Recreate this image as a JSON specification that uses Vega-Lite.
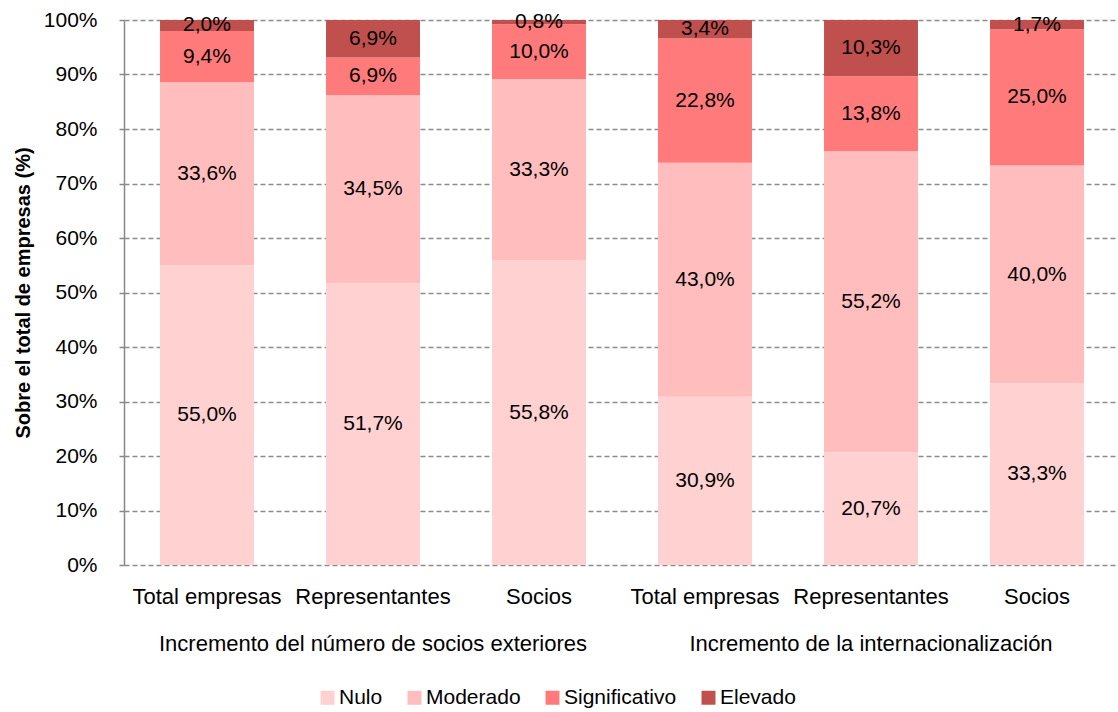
{
  "$schema": "https://vega.github.io/schema/vega-lite/v6.json",
  "padding": {"left": 13, "top": 9, "right": 0, "bottom": 6},
  "background": "white",
  "config": {
    "font": "Liberation Sans",
    "locale": {"number": {"decimal": ",", "thousands": ".", "grouping": [3], "currency": ["", " €"]}},
    "view": {"stroke": null},
    "axis": {"labelFont": "Liberation Sans", "labelColor": "black", "titleColor": "black"},
    "header": {"labelFont": "Liberation Sans", "labelColor": "black"},
    "legend": {"labelFont": "Liberation Sans", "labelColor": "black"}
  },
  "data": {
    "values": [
      {"grupo": "Incremento del número de socios exteriores", "barra": "Total empresas", "nivel": "Nulo", "orden": 1, "valor": 0.550},
      {"grupo": "Incremento del número de socios exteriores", "barra": "Total empresas", "nivel": "Moderado", "orden": 2, "valor": 0.336},
      {"grupo": "Incremento del número de socios exteriores", "barra": "Total empresas", "nivel": "Significativo", "orden": 3, "valor": 0.094},
      {"grupo": "Incremento del número de socios exteriores", "barra": "Total empresas", "nivel": "Elevado", "orden": 4, "valor": 0.020},
      {"grupo": "Incremento del número de socios exteriores", "barra": "Representantes", "nivel": "Nulo", "orden": 1, "valor": 0.517},
      {"grupo": "Incremento del número de socios exteriores", "barra": "Representantes", "nivel": "Moderado", "orden": 2, "valor": 0.345},
      {"grupo": "Incremento del número de socios exteriores", "barra": "Representantes", "nivel": "Significativo", "orden": 3, "valor": 0.069},
      {"grupo": "Incremento del número de socios exteriores", "barra": "Representantes", "nivel": "Elevado", "orden": 4, "valor": 0.069},
      {"grupo": "Incremento del número de socios exteriores", "barra": "Socios", "nivel": "Nulo", "orden": 1, "valor": 0.558},
      {"grupo": "Incremento del número de socios exteriores", "barra": "Socios", "nivel": "Moderado", "orden": 2, "valor": 0.333},
      {"grupo": "Incremento del número de socios exteriores", "barra": "Socios", "nivel": "Significativo", "orden": 3, "valor": 0.100},
      {"grupo": "Incremento del número de socios exteriores", "barra": "Socios", "nivel": "Elevado", "orden": 4, "valor": 0.008},
      {"grupo": "Incremento de la internacionalización", "barra": "Total empresas", "nivel": "Nulo", "orden": 1, "valor": 0.309},
      {"grupo": "Incremento de la internacionalización", "barra": "Total empresas", "nivel": "Moderado", "orden": 2, "valor": 0.430},
      {"grupo": "Incremento de la internacionalización", "barra": "Total empresas", "nivel": "Significativo", "orden": 3, "valor": 0.228},
      {"grupo": "Incremento de la internacionalización", "barra": "Total empresas", "nivel": "Elevado", "orden": 4, "valor": 0.034},
      {"grupo": "Incremento de la internacionalización", "barra": "Representantes", "nivel": "Nulo", "orden": 1, "valor": 0.207},
      {"grupo": "Incremento de la internacionalización", "barra": "Representantes", "nivel": "Moderado", "orden": 2, "valor": 0.552},
      {"grupo": "Incremento de la internacionalización", "barra": "Representantes", "nivel": "Significativo", "orden": 3, "valor": 0.138},
      {"grupo": "Incremento de la internacionalización", "barra": "Representantes", "nivel": "Elevado", "orden": 4, "valor": 0.103},
      {"grupo": "Incremento de la internacionalización", "barra": "Socios", "nivel": "Nulo", "orden": 1, "valor": 0.333},
      {"grupo": "Incremento de la internacionalización", "barra": "Socios", "nivel": "Moderado", "orden": 2, "valor": 0.400},
      {"grupo": "Incremento de la internacionalización", "barra": "Socios", "nivel": "Significativo", "orden": 3, "valor": 0.250},
      {"grupo": "Incremento de la internacionalización", "barra": "Socios", "nivel": "Elevado", "orden": 4, "valor": 0.017}
    ]
  },
  "transform": [
    {"stack": "valor", "groupby": ["grupo", "barra"], "sort": [{"field": "orden", "order": "ascending"}], "as": ["y0", "y1"], "offset": "normalize"},
    {"calculate": "(datum.y0 + datum.y1) / 2", "as": "ymid"}
  ],
  "facet": {
    "column": {
      "field": "grupo",
      "type": "nominal",
      "sort": ["Incremento del número de socios exteriores", "Incremento de la internacionalización"],
      "header": {"title": null, "labelOrient": "bottom", "labelFontSize": 22, "labelPadding": 27}
    }
  },
  "spacing": 0,
  "resolve": {"scale": {"x": "independent"}},
  "spec": {
    "width": 498,
    "height": 545,
    "encoding": {
      "x": {
        "field": "barra",
        "type": "nominal",
        "sort": ["Total empresas", "Representantes", "Socios"],
        "scale": {"paddingInner": 0.434, "paddingOuter": 0.217},
        "axis": {"title": null, "labelAngle": 0, "ticks": false, "domain": false, "grid": false, "labelFontSize": 22, "labelPadding": 21}
      }
    },
    "layer": [
      {
        "mark": {"type": "bar"},
        "encoding": {
          "y": {
            "field": "y0",
            "type": "quantitative",
            "scale": {"domain": [0, 1], "nice": false},
            "axis": {
              "title": "Sobre el total de empresas (%)",
              "titleFontSize": 20,
              "titleFontWeight": "bold",
              "titlePadding": 10,
              "values": [0, 0.1, 0.2, 0.3, 0.4, 0.5, 0.6, 0.7, 0.8, 0.9, 1],
              "format": ".0%",
              "labelFontSize": 21,
              "labelPadding": 22,
              "tickSize": 5,
              "tickColor": "#888888",
              "tickWidth": 1.5,
              "domainColor": "#888888",
              "domainWidth": 1.5,
              "grid": true,
              "gridColor": "#8c8c8c",
              "gridDash": [5, 3],
              "gridWidth": 1.5
            }
          },
          "y2": {"field": "y1"},
          "color": {
            "field": "nivel",
            "type": "nominal",
            "scale": {"domain": ["Nulo", "Moderado", "Significativo", "Elevado"], "range": ["#FFD1D1", "#FFBDBD", "#FF7A7A", "#C0504D"]},
            "legend": {"title": null, "orient": "none", "legendX": 193, "legendY": 667, "direction": "horizontal", "symbolType": "square", "symbolSize": 196, "symbolStrokeWidth": 0, "labelFontSize": 21, "labelOffset": 1, "columnPadding": 21}
          }
        }
      },
      {
        "mark": {"type": "text", "fontSize": 21, "color": "black", "baseline": "middle"},
        "encoding": {
          "y": {"field": "ymid", "type": "quantitative", "scale": {"domain": [0, 1], "nice": false}},
          "text": {"field": "valor", "type": "quantitative", "format": ".1%"}
        }
      }
    ]
  }
}
